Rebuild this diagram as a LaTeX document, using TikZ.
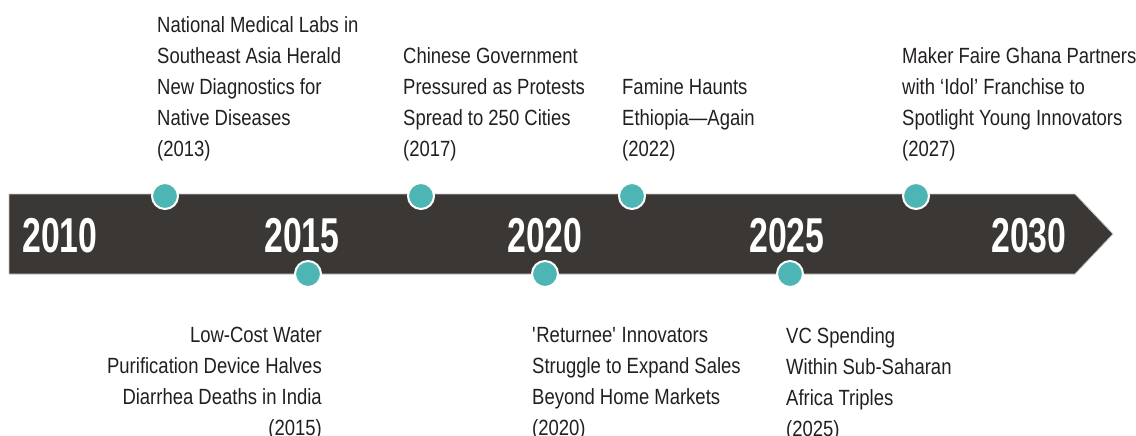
\documentclass[tikz,border=0pt]{standalone}
\usepackage{xcolor}
\usepackage{fontspec}
\setmainfont{Liberation Sans}[FakeStretch=0.84]
\newfontfamily\yearfont{Liberation Sans}[FakeStretch=0.69]
\usepackage{tikz}
\usetikzlibrary{positioning}
\definecolor{barcolor}{RGB}{59,55,53}
\definecolor{dotcolor}{RGB}{77,181,179}
\definecolor{eventcolor}{RGB}{35,31,32}

\begin{document}
\begin{tikzpicture}[
    x=1pt, y=-1pt,
    year/.style={font=\yearfont\bfseries\fontsize{49}{49}\selectfont, text=white, inner sep=0pt, anchor=base},
    event/.style={font=\fontsize{22}{31}\selectfont, text=eventcolor, inner sep=0pt, align=left},
    milestone/.style={circle, fill=dotcolor, draw=white, line width=2pt, minimum size=26pt, inner sep=0pt}
]
    \useasboundingbox (0,0) rectangle (1136,436);

    \draw[fill=barcolor, draw=gray!45, line width=0.8pt] (9,194) -- (1075,194) -- (1113,234) -- (1075,274) -- (9,274) -- cycle;

    \node[year] (y2010) at (60,252) {2010};
    \node[year] (y2015) at (302,252) {2015};
    \node[year] (y2020) at (545,252) {2020};
    \node[year] (y2025) at (787,252) {2025};
    \node[year] (y2030) at (1029,252) {2030};

    \node[milestone] (m2013) at (165,196) {};
    \node[milestone] (m2017) at (421,196) {};
    \node[milestone] (m2022) at (632,196) {};
    \node[milestone] (m2027) at (916,196) {};
    \node[milestone] (m2015) at (308,274) {};
    \node[milestone] (m2020) at (545,274) {};
    \node[milestone] (m2025) at (790,274) {};

    \node[event, anchor=north west] (e2013) at (157,16) {National Medical Labs in\\Southeast Asia Herald\\New Diagnostics for\\Native Diseases\\(2013)};
    \node[event, anchor=north west] (e2017) at (403,47) {Chinese Government\\Pressured as Protests\\Spread to 250 Cities\\(2017)};
    \node[event, anchor=north west] (e2022) at (622,78) {Famine Haunts\\Ethiopia---Again\\(2022)};
    \node[event, anchor=north west] (e2027) at (902,47) {Maker Faire Ghana Partners\\with `Idol' Franchise to\\Spotlight Young Innovators\\(2027)};

    \node[event, anchor=north east, align=right] (e2015) at (322,327) {Low-Cost Water\\Purification Device Halves\\Diarrhea Deaths in India\\(2015)};
    \node[event, anchor=north west] (e2020) at (532,327) {\textquotesingle Returnee\textquotesingle{} Innovators\\Struggle to Expand Sales\\Beyond Home Markets\\(2020)};
    \node[event, anchor=north west] (e2025) at (786,327) {VC Spending\\Within Sub-Saharan\\Africa Triples\\(2025)};
\end{tikzpicture}
\end{document}
